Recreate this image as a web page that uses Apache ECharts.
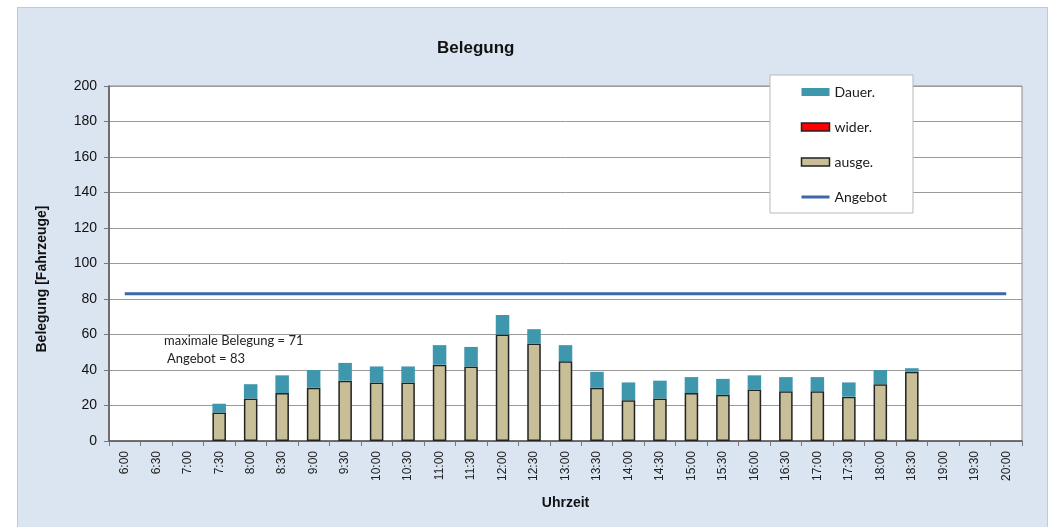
<!DOCTYPE html>
<html>
<head>
<meta charset="utf-8">
<script src="https://cdn.jsdelivr.net/npm/echarts@6/dist/echarts.min.js"></script>
<style>
  html, body { margin: 0; padding: 0; background: #fff; }
  #panel { position: absolute; left: 17px; top: 7px; width: 1029px; height: 530px;
           background: #dbe5f1; border: 1px solid #c4c9d0; }
  #chart { position: absolute; left: 0; top: 0; width: 1055px; height: 527px; }
</style>
</head>
<body>
<div id="panel"></div>
<div id="chart"></div>
<script>
// Uhrzeiten (Kategorien)
var times = ['6:00', '6:30', '7:00', '7:30', '8:00', '8:30', '9:00', '9:30', '10:00', '10:30',
    '11:00', '11:30', '12:00', '12:30', '13:00', '13:30', '14:00', '14:30', '15:00', '15:30',
    '16:00', '16:30', '17:00', '17:30', '18:00', '18:30', '19:00', '19:30', '20:00'];

// ausgelastet (unterer Teil)
var ausge = [null, null, null, 16, 24, 27, 30, 34, 33, 33, 43, 42, 60, 55, 45, 30, 23, 24, 27, 26,
    29, 28, 28, 25, 32, 39, null, null, null];
// widerrechtlich
var wider = [null, null, null, 0, 0, 0, 0, 0, 0, 0, 0, 0, 0, 0, 0, 0, 0, 0, 0, 0,
    0, 0, 0, 0, 0, 0, null, null, null];
// Dauerparker (oberer Teil)
var dauer = [null, null, null, 5, 8, 10, 10, 10, 9, 9, 11, 11, 11, 8, 9, 9, 10, 10, 9, 9,
    8, 8, 8, 8, 8, 2, null, null, null];
// Angebot
var angebot = [83, 83, 83, 83, 83, 83, 83, 83, 83, 83, 83, 83, 83, 83, 83, 83, 83, 83, 83, 83,
    83, 83, 83, 83, 83, 83, 83, 83, 83];

var yTicks = { min: 0, max: 200, interval: 20 };

var chart = echarts.init(document.getElementById('chart'));

var option = {
    backgroundColor: 'transparent',
    animation: false,
    title: {
        text: 'Belegung',
        left: 432,
        top: 35,
        textStyle: { fontFamily: 'Liberation Sans', fontSize: 17, fontWeight: 'bold', color: '#111' }
    },
    grid: {
        left: 109, right: 33, top: 86, bottom: 86,
        show: true,
        backgroundColor: '#fff',
        borderColor: '#8c8c8c',
        borderWidth: 1
    },
    legend: {
        orient: 'vertical',
        left: 770,
        top: 75,
        backgroundColor: '#fff',
        borderColor: '#b8b8b8',
        borderWidth: 1,
        padding: [10, 26, 9, 30],
        itemWidth: 28,
        itemHeight: 8,
        itemGap: 21,
        textStyle: { fontFamily: 'Lato', fontSize: 14, color: '#1a1a1a' },
        data: [
            { name: 'Dauer.', icon: 'rect' },
            { name: 'wider.', icon: 'rect', itemStyle: { borderColor: '#222', borderWidth: 1.5 } },
            { name: 'ausge.', icon: 'rect', itemStyle: { borderColor: '#222', borderWidth: 1.5 } },
            { name: 'Angebot', itemStyle: { opacity: 0 }, lineStyle: { width: 3, color: '#3d68a8' } }
        ]
    },
    xAxis: {
        type: 'category',
        data: times,
        boundaryGap: true,
        name: 'Uhrzeit',
        nameLocation: 'middle',
        nameGap: 55,
        nameTextStyle: { fontFamily: 'Liberation Sans', fontSize: 14, fontWeight: 'bold', color: '#111' },
        axisLine: { lineStyle: { color: '#555', width: 1.5 } },
        axisTick: { show: true, length: 5, lineStyle: { color: '#777' } },
        axisLabel: { rotate: 90, interval: 0, margin: 10, fontFamily: 'Liberation Sans', fontSize: 12, color: '#222' }
    },
    yAxis: {
        type: 'value',
        min: yTicks.min,
        max: yTicks.max,
        interval: yTicks.interval,
        axisLine: { show: true, lineStyle: { color: '#555', width: 1.5 } },
        axisTick: { show: true, length: 5, lineStyle: { color: '#777' } },
        axisLabel: { margin: 12, fontFamily: 'Liberation Sans', fontSize: 14, color: '#111' },
        splitLine: { lineStyle: { color: '#9a9a9a', width: 1 } }
    },
    series: [
        {
            name: 'ausge.',
            type: 'bar',
            stack: 'a',
            barWidth: '43%',
            data: ausge,
            itemStyle: { color: '#c8bf98', borderColor: '#222', borderWidth: 1.5 }
        },
        {
            name: 'wider.',
            type: 'bar',
            stack: 'a',
            data: wider,
            itemStyle: { color: '#ff0000', borderWidth: 0 }
        },
        {
            name: 'Dauer.',
            type: 'bar',
            stack: 'a',
            data: dauer,
            itemStyle: { color: '#3f97ae' }
        },
        {
            name: 'Angebot',
            type: 'line',
            data: angebot,
            symbol: 'none',
            lineStyle: { color: '#3d68a8', width: 3 },
            itemStyle: { color: '#3d68a8' },
            z: 5
        }
    ],
    graphic: [
        {
            // Achsentitel Y
            type: 'text', x: 42, y: 279, rotation: Math.PI / 2,
            style: {
                text: 'Belegung [Fahrzeuge]', font: 'bold 14px "Liberation Sans"', fill: '#111',
                textAlign: 'center', textVerticalAlign: 'middle'
            }
        },
        {
            type: 'text', left: 164, top: 334,
            style: { text: 'maximale Belegung = 71', font: '13px Lato', fill: '#222' }
        },
        {
            type: 'text', left: 167, top: 352,
            style: { text: 'Angebot = 83', font: '13px Lato', fill: '#222' }
        }
    ]
};

chart.setOption(option);
</script>
</body>
</html>
